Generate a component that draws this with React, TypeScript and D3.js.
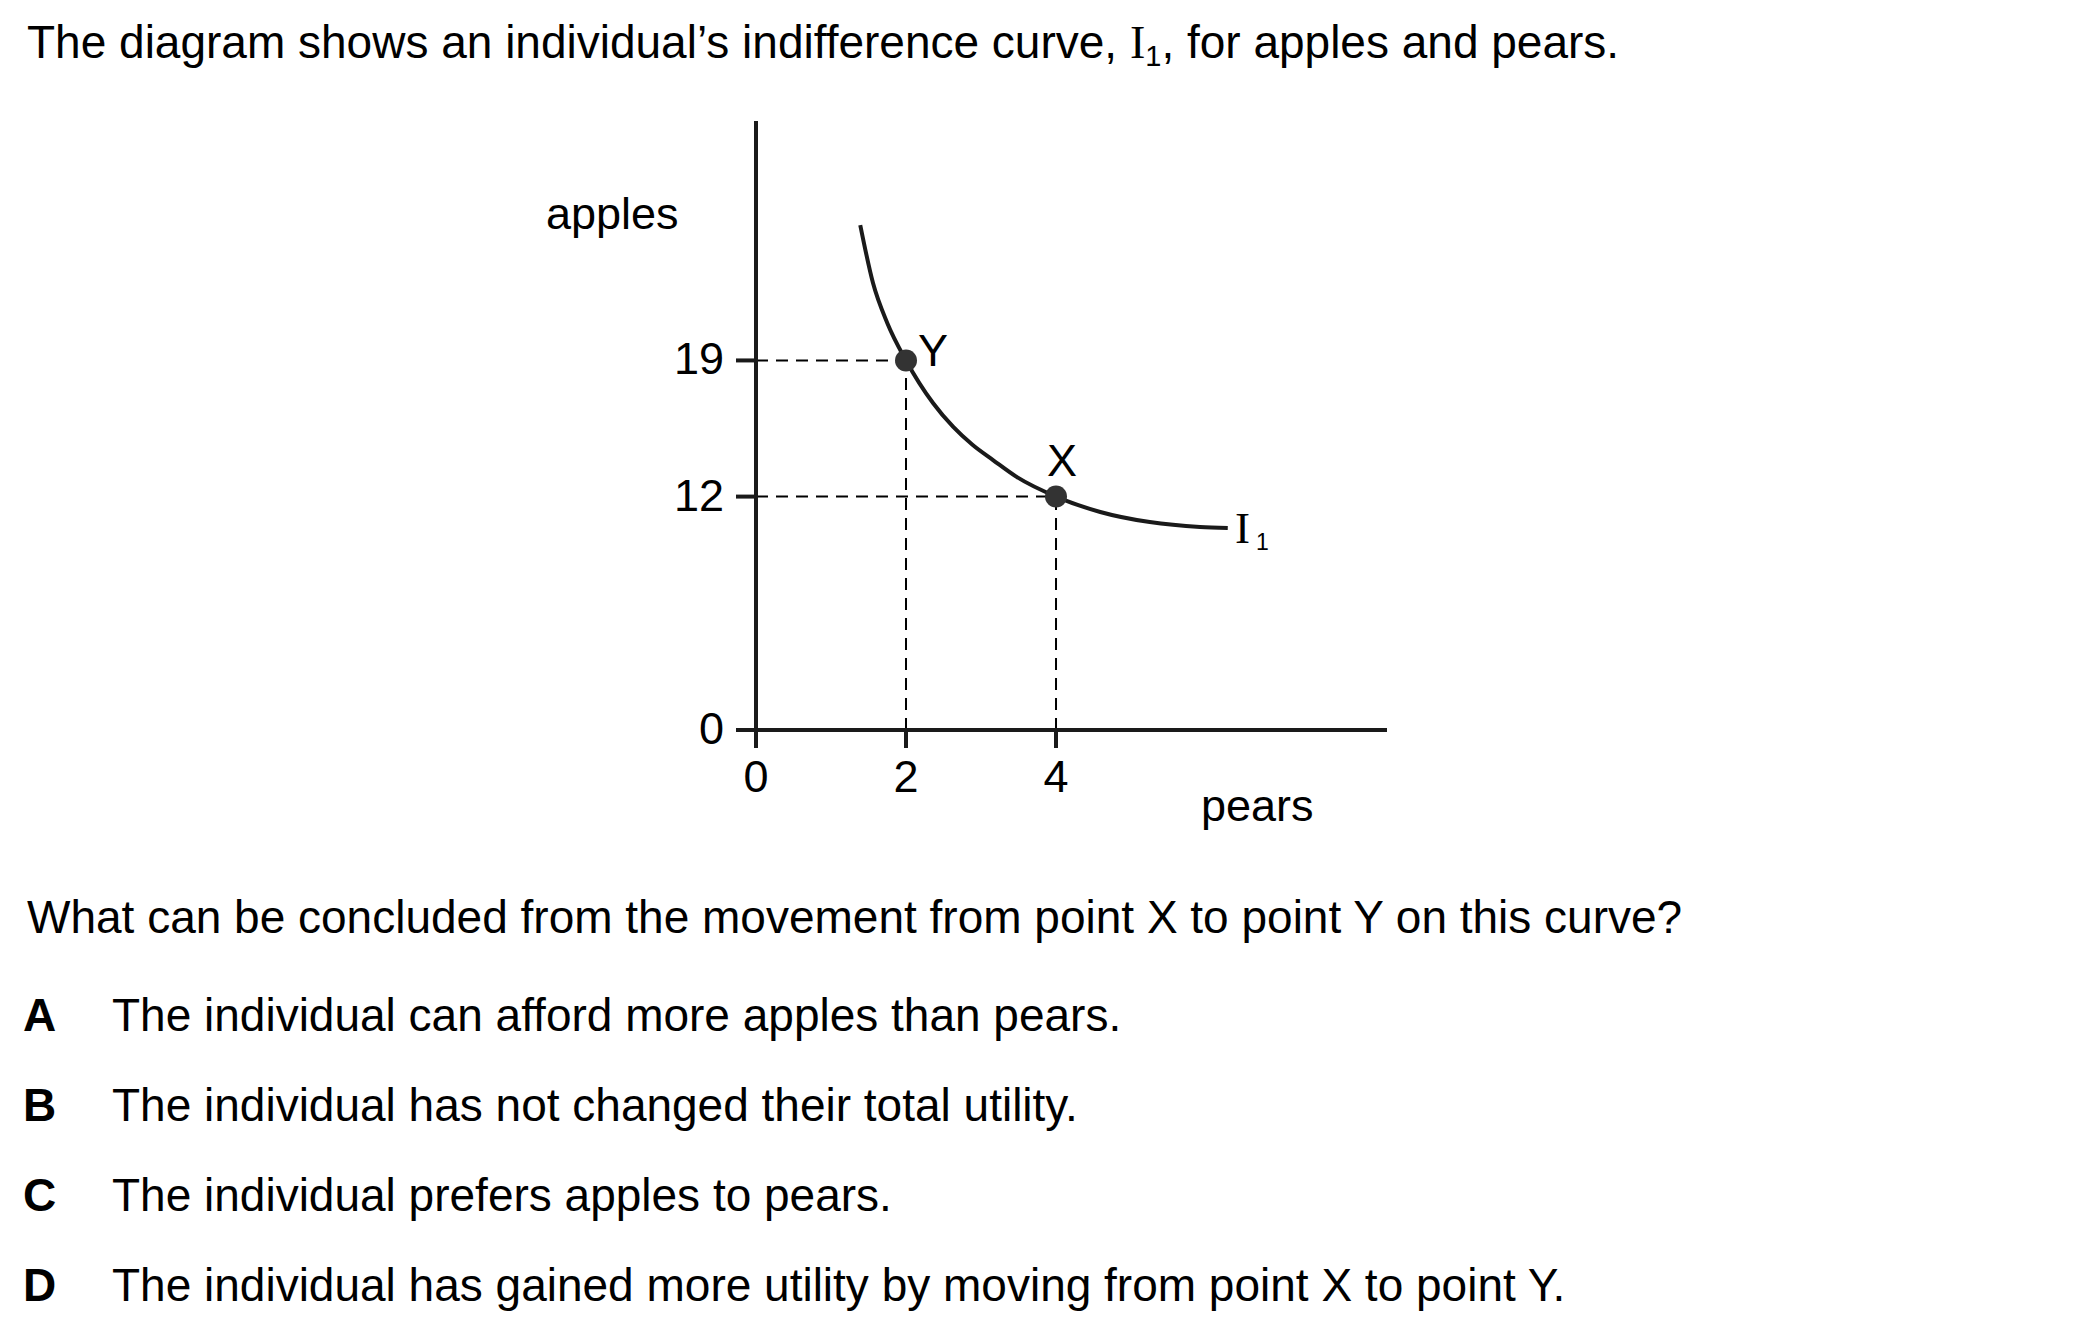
import React from "react";
import * as d3 from "d3";

const W = 2099;
const H = 1323;

// Data
const curvePears = [1.39, 1.56, 1.75, 2.0, 2.36, 2.63, 2.89, 3.16, 3.48, 4.0, 4.59, 5.25, 5.92, 6.29];
const curveApples = [25.96, 22.98, 20.93, 19.0, 16.81, 15.58, 14.65, 13.88, 13.0, 12.0, 11.21, 10.69, 10.44, 10.39];
const pointNames = ["Y", "X"];
const pointPears = [2, 4];
const pointApples = [19, 12];
const yTicks = [0, 12, 19];
const xTicks = [0, 2, 4];
const options = ["A", "B", "C", "D"];
const optionTexts = [
  "The individual can afford more apples than pears.",
  "The individual has not changed their total utility.",
  "The individual prefers apples to pears.",
  "The individual has gained more utility by moving from point X to point Y.",
];

const SANS = "'Liberation Sans', Arial, sans-serif";
const SERIF = "'Liberation Serif', 'Times New Roman', serif";

export default function App() {
  const x = d3.scaleLinear().domain([0, 8.413]).range([756, 1387]);
  const y = d3.scaleLinear().domain([0, 31.31]).range([730, 121]);
  const pts: [number, number][] = curvePears.map((p, i) => [p, curveApples[i]]);
  const line = d3
    .line<[number, number]>()
    .x((d) => x(d[0]))
    .y((d) => y(d[1]))
    .curve(d3.curveMonotoneX);

  const ink = "#1a1a1a";
  const labelOffsets: Record<string, [number, number]> = { Y: [12, 6], X: [-9, -21] };

  return (
    <svg
      width={W}
      height={H}
      style={{ position: "absolute", left: 0, top: 0, display: "block", background: "#fff" }}
    >
      {/* Title */}
      <text x={27} y={58} fontFamily={SANS} fontSize={46} fill="#000">
        The diagram shows an individual’s indifference curve,{" "}
        <tspan fontFamily={SERIF}>I</tspan>
        <tspan fontSize={29} dy={8}>1</tspan>
        <tspan dy={-8}>, for apples and pears.</tspan>
      </text>

      {/* dashed guides */}
      {pointPears.map((p, i) => (
        <g key={"g" + i} stroke="#000" strokeWidth={2} strokeDasharray="12 8" fill="none">
          <line x1={x(0)} x2={x(p)} y1={y(pointApples[i])} y2={y(pointApples[i])} />
          <line x1={x(p)} x2={x(p)} y1={y(0)} y2={y(pointApples[i])} />
        </g>
      ))}

      {/* axes */}
      <line x1={x(0)} x2={x(0)} y1={y(0) + 18} y2={y.range()[1]} stroke={ink} strokeWidth={4} />
      <line x1={x(0) - 20} x2={x.range()[1]} y1={y(0)} y2={y(0)} stroke={ink} strokeWidth={4} />
      {yTicks.map((t) => (
        <g key={"yt" + t}>
          <line x1={x(0) - 20} x2={x(0)} y1={y(t)} y2={y(t)} stroke={ink} strokeWidth={4} />
          <text x={724} y={y(t) + 14} textAnchor="end" fontFamily={SANS} fontSize={45} fill="#000">
            {t}
          </text>
        </g>
      ))}
      {xTicks.map((t) => (
        <g key={"xt" + t}>
          <line x1={x(t)} x2={x(t)} y1={y(0)} y2={y(0) + 18} stroke={ink} strokeWidth={4} />
          <text x={x(t)} y={792} textAnchor="middle" fontFamily={SANS} fontSize={45} fill="#000">
            {t}
          </text>
        </g>
      ))}
      <text x={546} y={229} fontFamily={SANS} fontSize={45} fill="#000">apples</text>
      <text x={1201} y={821} fontFamily={SANS} fontSize={45} fill="#000">pears</text>

      {/* indifference curve */}
      <path d={line(pts) || ""} fill="none" stroke={ink} strokeWidth={4} />
      <text x={1235} y={543} fontFamily={SERIF} fontSize={45} fill="#000">I</text>
      <text x={1256} y={550} fontFamily={SANS} fontSize={23} fill="#000">1</text>

      {/* points */}
      {pointPears.map((p, i) => (
        <g key={"p" + i}>
          <circle cx={x(p)} cy={y(pointApples[i])} r={11} fill="#333" />
          <text
            x={x(p) + labelOffsets[pointNames[i]][0]}
            y={y(pointApples[i]) + labelOffsets[pointNames[i]][1]}
            fontFamily={SANS}
            fontSize={45}
            fill="#000"
          >
            {pointNames[i]}
          </text>
        </g>
      ))}

      {/* question */}
      <text x={27} y={933} fontFamily={SANS} fontSize={46} fill="#000">
        What can be concluded from the movement from point X to point Y on this curve?
      </text>
      {options.map((o, i) => (
        <g key={o}>
          <text x={23} y={1031 + i * 90} fontFamily={SANS} fontSize={46} fontWeight="bold" fill="#000">
            {o}
          </text>
          <text x={112} y={1031 + i * 90} fontFamily={SANS} fontSize={46} fill="#000">
            {optionTexts[i]}
          </text>
        </g>
      ))}
    </svg>
  );
}
